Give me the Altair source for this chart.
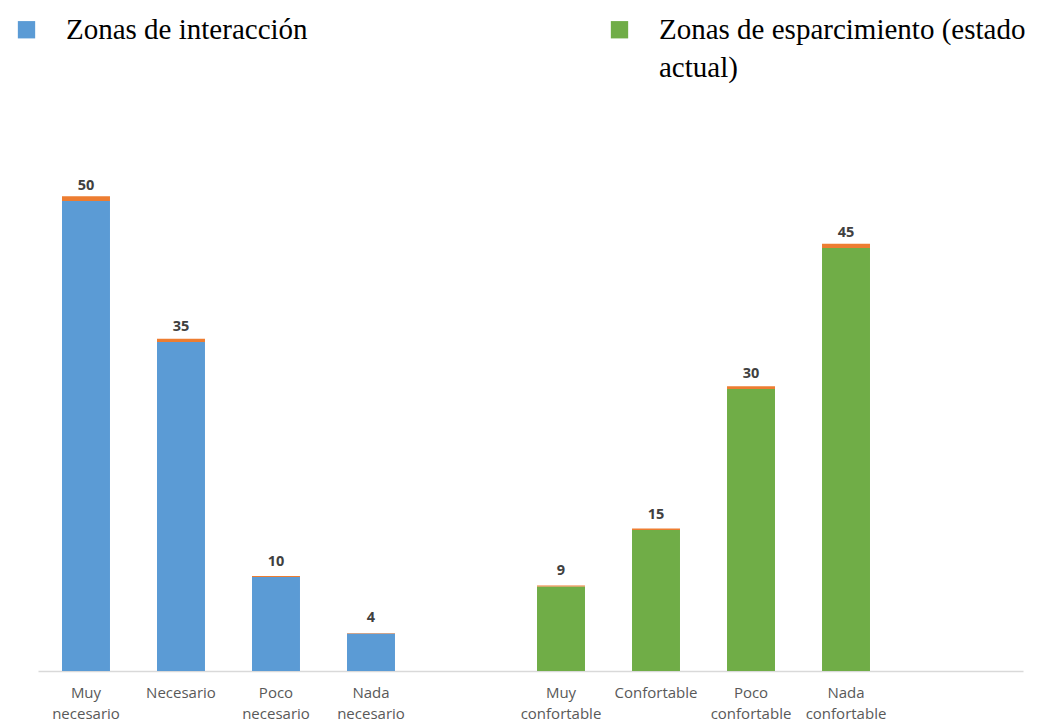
import altair as alt
import pandas as pd

categorias = ["Muy necesario", "Necesario", "Poco necesario", "Nada necesario",
              "Muy confortable", "Confortable", "Poco confortable", "Nada confortable"]
zonas = ["Zonas de interacción"] * 4 + ["Zonas de esparcimiento (estado actual)"] * 4
valores = [50, 35, 10, 4, 9, 15, 30, 45]
extra = [0.51, 0.35, 0.10, 0.04, 0.09, 0.15, 0.30, 0.45]
hueco = " "
dominio_x = categorias[:4] + [hueco] + categorias[4:]
series = ["Zonas de interacción", "Zonas de esparcimiento (estado actual)", "Serie 2"]
colores = ["#5B9BD5", "#70AD47", "#ED7D31"]

rows = []
for c, z, v, e in zip(categorias, zonas, valores, extra):
    rows.append({"categoria": c, "serie": z, "valor": v, "orden": 1})
    rows.append({"categoria": c, "serie": "Serie 2", "valor": e, "orden": 2})
df = pd.DataFrame(rows)
df_lab = pd.DataFrame({"categoria": categorias, "valor": valores})

xscale = alt.Scale(domain=dominio_x, paddingInner=0.495, paddingOuter=0.9316, align=0.1356)
yscale = alt.Scale(domain=[0, 60], nice=False)

legend = alt.Legend(
    title=None, orient="none", legendX=-26, legendY=-92, direction="horizontal",
    columns=2, columnPadding=297, values=series[:2],
    labelFont="Liberation Serif", labelFontSize=29, labelColor="black", labelLimit=0,
    labelOffset=25, symbolType="square", symbolSize=300, symbolStrokeWidth=0,
    labelExpr="datum.label == 'Zonas de esparcimiento (estado actual)' ? ['Zonas de esparcimiento (estado', 'actual)'] : [datum.label, '']",
)

bars = alt.Chart(df).mark_bar().encode(
    x=alt.X("categoria:N", scale=xscale, title=None,
            axis=alt.Axis(labelAngle=0, ticks=False, domainColor="#d9d9d9", domainWidth=1.5,
                          labelExpr="split(datum.label, ' ')", labelFont="Open Sans",
                          labelFontSize=15, labelColor="#595959", labelLineHeight=21,
                          labelPadding=14, grid=False)),
    y=alt.Y("valor:Q", stack="zero", scale=yscale, axis=None),
    color=alt.Color("serie:N", scale=alt.Scale(domain=series, range=colores), legend=legend),
    order=alt.Order("orden:Q"),
)

labels = alt.Chart(df_lab).mark_text(dy=-15, fontWeight="bold", font="Open Sans",
                                     fontSize=14.5, color="#404040").encode(
    x=alt.X("categoria:N", scale=xscale),
    y=alt.Y("valor:Q", scale=yscale),
    text=alt.Text("valor:Q"),
)

chart = alt.layer(bars, labels).properties(
    width=985, height=564,
    padding={"left": 4, "top": 7, "right": 0, "bottom": 0},
).configure(style={"guide-label": {"lineHeight": 38}}).configure_view(stroke=None)

chart.save("out.html", embed_options={"renderer": "svg", "actions": False})
